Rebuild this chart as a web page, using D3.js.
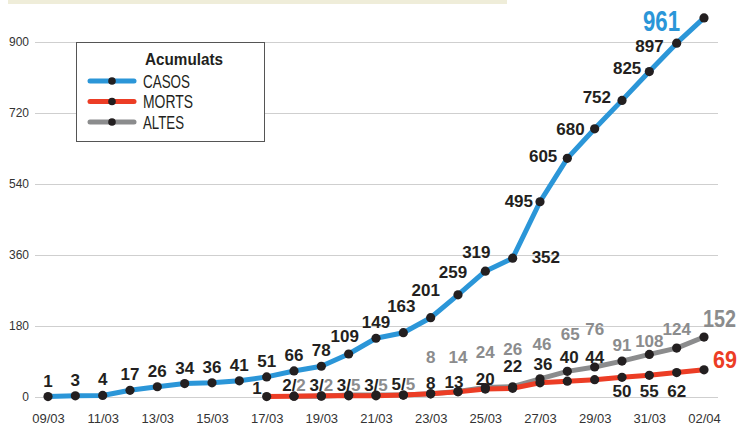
<!DOCTYPE html>
<html>
<head>
<meta charset="utf-8">
<script src="https://cdn.jsdelivr.net/npm/d3@7"></script>
<style>
  body { margin: 0; background: #fff; }
  svg { display: block; }
</style>
</head>
<body>
<div id="chart"></div>
<script>
// data
const dates = ['09/03', '10/03', '11/03', '12/03', '13/03', '14/03', '15/03', '16/03',
  '17/03', '18/03', '19/03', '20/03', '21/03', '22/03', '23/03', '24/03', '25/03',
  '26/03', '27/03', '28/03', '29/03', '30/03', '31/03', '01/04', '02/04']

const casos = [1, 3, 4, 17, 26, 34, 36, 41, 51, 66, 78, 109, 149, 163, 201, 259, 319,
  352, 495, 605, 680, 752, 825, 897, 961]

const morts = [null, null, null, null, null, null, null, null,
  1, 2, 3, 3, 3, 5, 8, 13, 20, 22, 36, 40, 44, 50, 55, 62, 69]

const altes = [null, null, null, null, null, null, null, null, null,
  2, 2, 5, 5, 5, 8, 14, 24, 26, 46, 65, 76, 91, 108, 124, 152]

const yTicks = [0, 180, 360, 540, 720, 900]
const xTickLabels = dates.filter((d, i) => i % 2 === 0)

const legendTitle = 'Acumulats'
const seriesNames = ['CASOS', 'MORTS', 'ALTES']

const width = 738
const height = 428

const colors = { CASOS: '#2b96d8', MORTS: '#ec3d25', ALTES: '#8b8c8d' }
const ink = '#231f20'

// label placement: [anchor, dx, dy] per index, default centred above the dot
const casosPos = {
  11: ['middle', -4, -12], 13: ['middle', -2, -21], 14: ['middle', -5, -22],
  15: ['middle', -5, -17], 16: ['middle', -9, -13], 17: ['start', 19, 5],
  18: ['end', -7, 5], 19: ['end', -10, 4], 20: ['end', -10, 6], 21: ['end', -11, 3],
  22: ['end', -8, 2], 23: ['end', -13, 9], 24: ['end', -24, 13]
}
const mortsPos = {
  8: ['end', -5, -3], 14: ['middle', 0, -5], 15: ['middle', -4, -4], 16: ['middle', 0, -4],
  17: ['middle', 0, -16], 18: ['middle', 3, -13], 19: ['middle', 2, -18],
  20: ['middle', 0, -17], 21: ['middle', 0, 20], 22: ['middle', 0, 22],
  23: ['middle', 0, 24], 24: ['start', 9, -2]
}
const altesPos = {
  14: ['middle', 0, -31], 15: ['middle', 0, -28], 16: ['middle', 0, -30],
  17: ['middle', 0, -32], 18: ['middle', 2, -29], 19: ['middle', 3, -31],
  20: ['middle', 0, -32], 21: ['middle', 0, -10], 22: ['middle', 0, -7],
  23: ['middle', 0, -13], 24: ['start', -1, -10]
}
// days where deaths and discharges share one "m/a" label
const sharedLabel = [9, 10, 11, 12, 13]

// the condensed face is not installed, squeeze the wide one instead
const condensed = '"Liberation Sans", Arial, sans-serif'

const svg = d3
  .select('#chart')
  .append('svg')
  .attr('width', width)
  .attr('height', height)
  .style('font-family', '"Liberation Sans", Arial, sans-serif')

const x = d3.scalePoint().domain(dates).range([48, 704])
const y = d3.scaleLinear().domain([0, 900]).range([397, 42])

// beige band at the top
svg.append('rect')
  .attr('x', 8).attr('y', 0)
  .attr('width', 499).attr('height', 4)
  .attr('fill', '#efedd9')

// horizontal grid + y labels
const yAxis = svg.append('g')
  .attr('transform', 'translate(35,0)')
  .call(d3.axisLeft(y).tickValues(yTicks).tickSize(-683).tickPadding(6))
yAxis.select('.domain').remove()
yAxis.selectAll('.tick line').attr('stroke', '#cfcfcf').attr('stroke-width', 1.2)
yAxis.selectAll('.tick text')
  .attr('fill', '#333')
  .attr('font-size', 12)
  .attr('font-family', '"Liberation Sans", Arial, sans-serif')

// x labels
const xAxis = svg.append('g')
  .attr('transform', 'translate(0,413)')
  .call(d3.axisBottom(x).tickValues(xTickLabels).tickSize(0).tickPadding(0))
xAxis.select('.domain').remove()
xAxis.selectAll('.tick text')
  .attr('fill', '#333')
  .attr('font-size', 13)
  .attr('dy', '0.75em')
  .attr('font-family', '"Liberation Sans", Arial, sans-serif')

// legend box (drawn before the lines; it covers the grid)
const legend = svg.append('g')
legend.append('rect')
  .attr('x', 76.5).attr('y', 42.5)
  .attr('width', 188).attr('height', 99)
  .attr('fill', '#fff')
  .attr('stroke', '#555')
  .attr('stroke-width', 1)
legend.append('text')
  .attr('x', 145).attr('y', 65)
  .attr('font-size', 16)
  .attr('font-weight', 'bold')
  .attr('font-family', condensed)
  .attr('textLength', 78)
  .attr('lengthAdjust', 'spacingAndGlyphs')
  .attr('fill', ink)
  .text(legendTitle)
const legendWidths = [47, 50, 41]
seriesNames.forEach((name, i) => {
  const ly = 81 + i * 20.5
  legend.append('line')
    .attr('x1', 90).attr('x2', 134).attr('y1', ly).attr('y2', ly)
    .attr('stroke', colors[name]).attr('stroke-width', 5).attr('stroke-linecap', 'round')
  legend.append('circle').attr('cx', 112).attr('cy', ly).attr('r', 3.8).attr('fill', ink)
  legend.append('text')
    .attr('x', 143).attr('y', ly + 6.5)
    .attr('font-size', 18)
    .attr('font-family', condensed)
    .attr('textLength', legendWidths[i])
    .attr('lengthAdjust', 'spacingAndGlyphs')
    .attr('fill', ink)
    .text(name)
})

const line = d3.line()
  .defined(d => d != null)
  .x((d, i) => x(dates[i]))
  .y(d => y(d))

const seriesOrder = [['ALTES', altes], ['MORTS', morts], ['CASOS', casos]]

seriesOrder.forEach(([name, values]) => {
  svg.append('path')
    .datum(values)
    .attr('fill', 'none')
    .attr('stroke', colors[name])
    .attr('stroke-width', 5)
    .attr('stroke-linejoin', 'round')
    .attr('stroke-linecap', 'round')
    .attr('d', line)
})

seriesOrder.forEach(([name, values]) => {
  svg.selectAll('.dot-' + name)
    .data(values.map((v, i) => ({ v, i })).filter(d => d.v != null))
    .enter()
    .append('circle')
    .attr('class', 'dot-' + name)
    .attr('cx', d => x(dates[d.i]))
    .attr('cy', d => y(d.v))
    .attr('r', 4.6)
    .attr('fill', ink)
})

function drawLabels(values, pos, color, skip, big) {
  values.forEach((v, i) => {
    if (v == null || skip.includes(i)) return
    const [anchor, dx, dy] = pos[i] || ['middle', 0, -10]
    const isBig = i === values.length - 1
    const t = svg.append('text')
      .attr('x', x(dates[i]) + dx)
      .attr('y', y(v) + dy)
      .attr('text-anchor', anchor)
      .attr('font-weight', 'bold')
      .attr('font-size', isBig ? big.size : 17)
      .attr('fill', isBig ? big.color : color)
      .text(v)
    if (isBig) {
      t.attr('font-family', condensed)
        .attr('textLength', big.len)
        .attr('lengthAdjust', 'spacingAndGlyphs')
    }
  })
}

drawLabels(casos, casosPos, ink, [], { size: 29, color: colors.CASOS, len: 37 })
drawLabels(morts, mortsPos, ink, sharedLabel, { size: 23, color: colors.MORTS, len: 24 })
drawLabels(altes, altesPos, '#8b8c8d', sharedLabel, { size: 24, color: colors.ALTES, len: 33 })

// "m/a" labels on the days with few deaths and discharges
sharedLabel.forEach(i => {
  const t = svg.append('text')
    .attr('x', x(dates[i]))
    .attr('y', y(morts[i]) - 5)
    .attr('text-anchor', 'middle')
    .attr('font-size', 17)
    .attr('font-weight', 'bold')
  t.append('tspan').attr('fill', ink).text(morts[i] + '/')
  t.append('tspan').attr('fill', '#8b8c8d').text(altes[i])
})
</script>
</body>
</html>
